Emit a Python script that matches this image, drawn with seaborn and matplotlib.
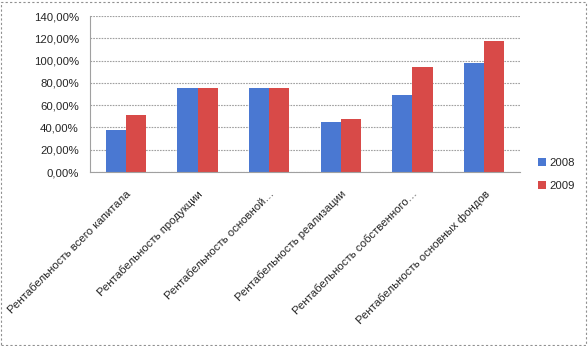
import matplotlib
matplotlib.use("Agg")
import matplotlib.pyplot as plt
import seaborn as sns
import pandas as pd
from matplotlib.ticker import FuncFormatter, MultipleLocator
from matplotlib.patches import Rectangle

categories = [
    "Рентабельность всего капитала",
    "Рентабельность продукции",
    "Рентабельность основной…",
    "Рентабельность реализации",
    "Рентабельность собственного…",
    "Рентабельность основных фондов",
]
years = ["2008", "2009"]
values_2008 = [37.9, 75.2, 75.2, 44.8, 68.7, 97.6]
values_2009 = [51.3, 75.2, 75.2, 47.2, 94.6, 117.9]

df = pd.DataFrame({
    "cat": categories * 2,
    "year": [years[0]] * len(categories) + [years[1]] * len(categories),
    "val": values_2008 + values_2009,
})

sns.set_style("white")
plt.rcParams["font.family"] = ["Liberation Sans", "DejaVu Sans"]

fig = plt.figure(figsize=(5.88, 3.46), dpi=100)
ax = fig.add_axes([90 / 588, 1 - 172 / 346, 430 / 588, 156 / 346])

sns.barplot(data=df, x="cat", y="val", hue="year", order=categories,
            palette=["#4a78d2", "#d84a48"], width=0.56, ax=ax,
            saturation=1, edgecolor="none", legend=True)

ax.set_ylim(0, 140)
ax.set_xlim(-0.5, len(categories) - 0.5)
ax.yaxis.set_major_locator(MultipleLocator(20))
ax.yaxis.set_major_formatter(FuncFormatter(lambda v, p: f"{v:.2f}".replace(".", ",") + "%"))
ax.set_xlabel("")
ax.set_ylabel("")
ax.grid(axis="y", color="#a0a0a0", linestyle=(0, (1.5, 1)), linewidth=0.8)
ax.set_axisbelow(True)
for s in ["top", "right"]:
    ax.spines[s].set_visible(False)
for s in ["left", "bottom"]:
    ax.spines[s].set_color("#a0a0a0")
    ax.spines[s].set_linewidth(0.8)

ax.set_xticks([i - 0.5 for i in range(len(categories) + 1)], minor=False)
ax.set_xticklabels([])
ax.tick_params(axis="x", which="major", length=4, color="#a0a0a0", width=0.8, direction="out")
ax.tick_params(axis="y", length=3, color="#a0a0a0", width=0.8, labelsize=8.2, pad=5)
ax.set_xticks(range(len(categories)), minor=True)
ax.set_xticklabels(categories, minor=True, rotation=45, ha="right",
                   rotation_mode="anchor", fontsize=8.2)
ax.tick_params(axis="x", which="minor", length=0, pad=12)

leg = ax.legend(loc="upper left", bbox_to_anchor=(528 / 588, 1 - 148 / 346),
                bbox_transform=fig.transFigure, frameon=False, fontsize=8.2,
                handlelength=0.7, handleheight=0.7, handletextpad=0.3,
                labelspacing=1.1)

fig.patches.append(Rectangle((0.002, 0.003), 0.994, 0.992, transform=fig.transFigure,
                             fill=False, edgecolor="#909090", linestyle=(0, (2, 2)),
                             linewidth=0.8))

fig.savefig("out.png", dpi=100)
